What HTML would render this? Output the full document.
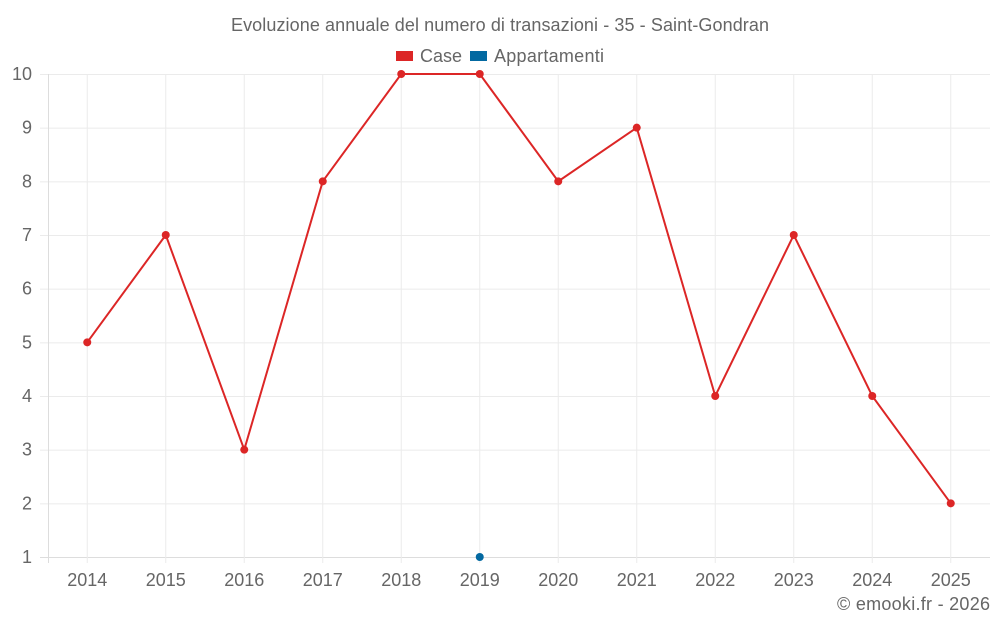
<!DOCTYPE html>
<html><head><meta charset="utf-8"><style>
body{margin:0;background:#fff;font-family:"Liberation Sans",sans-serif}
svg text{font-family:"Liberation Sans",sans-serif;fill:#666}
</style></head><body>
<svg id="c" width="1000" height="625">
<text x="500" y="31" text-anchor="middle" font-size="18" textLength="538">Evoluzione annuale del numero di transazioni - 35 - Saint-Gondran</text>
<g>
<g><rect x="396" y="51" width="17" height="10" fill="#dc2626"/><text x="420" y="62" font-size="18">Case</text></g>
<g><rect x="470" y="51" width="17" height="10" fill="#0369a1"/><text x="494" y="62" font-size="18" textLength="110">Appartamenti</text></g>
</g>
<text x="990" y="610" text-anchor="end" font-size="18" textLength="153">© emooki.fr - 2026</text>
<g id="grid"></g><g id="marks"></g>
</svg>
<script>
const years=["2014","2015","2016","2017","2018","2019","2020","2021","2022","2023","2024","2025"];
const caseValues=[5,7,3,8,10,10,8,9,4,7,4,2];
const apptValues=[null,null,null,null,null,1,null,null,null,null,null,null];
const yTicks=[1,2,3,4,5,6,7,8,9,10];
const NS="http://www.w3.org/2000/svg";
const L=48,R=990,T=74,B=557,yMin=1,yMax=10;
const step=(R-L)/years.length;
function xS(i){return L+step/2+i*step;}
function yS(v){return B-(v-yMin)/(yMax-yMin)*(B-T);}
function mk(t,a,p){const e=document.createElementNS(NS,t);for(const k in a)e.setAttribute(k,a[k]);p.appendChild(e);return e;}
const g=document.getElementById('grid'),m=document.getElementById('marks');
yTicks.forEach(v=>{
 const ln=mk('line',{x1:40,x2:R,y1:yS(v)+0.5,y2:yS(v)+0.5,stroke:v===yMin?'#ddd':'#ebebeb'},g);
 
 
 const t=mk('text',{x:32,y:yS(v)+6,'text-anchor':'end','font-size':18},g);t.textContent=v;
 
 
});
const ax=mk('line',{x1:L+0.5,x2:L+0.5,y1:T,y2:B+6,stroke:'#ddd'},g);


years.forEach((y,i)=>{
 const ln=mk('line',{x1:xS(i),x2:xS(i),y1:T,y2:B+6,stroke:'#ebebeb'},g);
 
 
 const t=mk('text',{x:xS(i),y:586,'text-anchor':'middle','font-size':18},g);t.textContent=y;
 
 
});
const pts=caseValues.map((v,i)=>xS(i)+','+yS(v)).join(' ');
const pl=mk('polyline',{points:pts,fill:'none',stroke:'#dc2626','stroke-width':2},m);


caseValues.forEach((v,i)=>{
 const c=mk('circle',{cx:xS(i),cy:yS(v),r:4,fill:'#dc2626'},m);
 
 
});
apptValues.forEach((v,i)=>{
 if(v===null)return;
 const c=mk('circle',{cx:xS(i),cy:yS(v),r:4,fill:'#0369a1'},m);
 
 
});
</script>
</body></html>
